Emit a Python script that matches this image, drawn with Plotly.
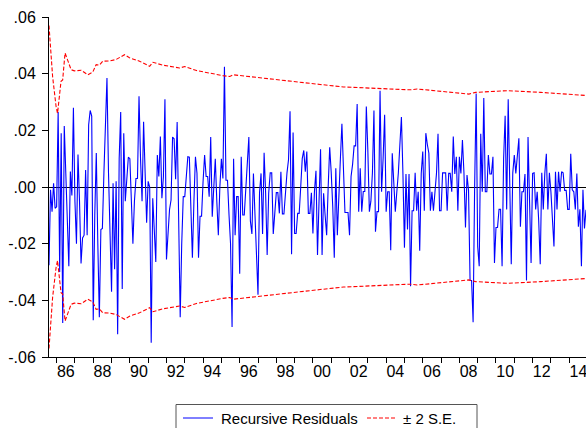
import numpy as np
import pandas as pd
import plotly.graph_objects as go

# Recursive residuals, monthly from 1985M08 to 2014M12
resid_1985_1991 = [
    -0.0276, -0.001, -0.0087, 0.0013, -0.0075, -0.007, 0.0265, -0.030, 0.019, -0.048,
    0.0215, 0.005, -0.012, -0.028, 0.0055, -0.003, 0.028, -0.005, -0.020, 0.0115,
    -0.005, -0.027, -0.018, -0.017, 0.006, -0.017, 0.022, 0.027, 0.025, -0.047,
    -0.010, 0.012, -0.020, -0.046, -0.015, -0.0146, 0.005, 0.020, 0.0385, 0.005,
    -0.015, -0.037, 0.0013, -0.029, 0.002, -0.052, 0.010, 0.0265, -0.036, 0.019,
    -0.005, 0.005, 0.0105, 0.010, -0.005, -0.020, -0.005, 0.003, 0.003, 0.032,
    0.010, -0.005, 0.023, 0.005, -0.0126, 0.002, 0.000, -0.055]
resid_1991_1997 = [
    -0.004, -0.015, -0.0265, 0.0113, 0.0037, 0.0178, -0.004, 0.0037, 0.031, -0.0256,
    -0.015, -0.008, -0.0046, 0.0176, 0.017, 0.0027, 0.0229, -0.021, -0.046, -0.020,
    -0.0034, -0.0034, 0.005, 0.0107, 0.0105, -0.0046, -0.025, -0.005, 0.0107, 0.0048,
    -0.025, -0.0103, -0.0103, 0.002, 0.0113, 0.0037, 0.0037, -0.0034, 0.0176, -0.0105,
    0.000, 0.010, -0.005, -0.017, 0.000, 0.010, 0.003, 0.0424, 0.0024, 0.0024,
    -0.0099, -0.020, -0.0494, 0.010, -0.017, -0.0034, -0.0034, -0.0306, 0.0107, -0.0099,
    -0.0099, 0.000, 0.008, 0.0176, -0.012, -0.0166, 0.0048, -0.0075, -0.020, -0.038,
    -0.002]
resid_1997_2003 = [
    0.0048, -0.0166, 0.0121, -0.0022, -0.024, -0.0022, 0.005, 0.005, -0.0166, -0.0093,
    -0.002, -0.002, -0.0093, 0.0054, -0.0095, -0.0095, -0.0015, 0.005, 0.0096, 0.0267,
    -0.0237, 0.0192, -0.0164, -0.0164, -0.0093, -0.0093, 0.000, 0.010, 0.0129, 0.0054,
    0.0125, -0.0093, -0.0093, -0.002, -0.0164, -0.0016, 0.0057, -0.024, -0.005, 0.0133,
    -0.024, -0.0022, -0.010, -0.017, 0.000, 0.014, 0.005, -0.007, -0.025, 0.0066,
    -0.017, 0.000, 0.010, 0.0223, 0.0037, -0.009, -0.009, -0.009, -0.017, 0.0037,
    0.008, 0.0145, 0.0145, 0.0293, -0.0087, 0.0066, -0.0087, -0.0016, -0.0016, 0.0284,
    0.013]
resid_2003_2009 = [
    -0.0087, -0.005, 0.005, 0.027, -0.0158, -0.0087, -0.0087, 0.034, -0.0017, 0.010,
    0.0255, -0.0087, -0.0017, -0.0017, -0.0223, 0.0119, 0.002, -0.0087, -0.0017, 0.005,
    0.015, 0.0247, 0.0048, -0.0214, 0.0046, -0.015, 0.0046, -0.035, -0.0084, -0.0084,
    0.005, -0.0084, -0.0017, -0.0225, 0.0048, 0.0125, -0.0084, 0.019, 0.015, 0.0119,
    -0.0084, -0.0017, -0.0084, 0.000, 0.0048, 0.0188, -0.0084, -0.0084, 0.005, 0.005,
    0.005, -0.0084, 0.0048, 0.0048, -0.0017, 0.0178, 0.0046, 0.0107, -0.0084, 0.0107,
    0.0048, 0.0166, 0.005, -0.0143, 0.0042, -0.0012, -0.033, -0.033, -0.0477, 0.000,
    0.033]
resid_2009_2014 = [
    -0.021, -0.028, 0.0188, -0.0017, 0.0314, -0.0017, -0.0017, 0.0113, 0.0046, 0.0046,
    0.0107, -0.0268, -0.0143, -0.0143, -0.0079, -0.0079, -0.028, 0.010, 0.0251, -0.0079,
    0.031, 0.0037, -0.0273, 0.005, 0.0113, 0.0048, 0.010, 0.0172, -0.014, -0.0017,
    -0.0017, 0.0046, -0.033, 0.0176, -0.005, -0.0268, 0.0048, 0.005, -0.0079, -0.0017,
    -0.012, -0.0273, 0.005, -0.0079, 0.0048, 0.0117, -0.0079, 0.005, -0.0017, -0.010,
    -0.021, 0.0054, -0.0079, 0.0054, -0.0017, 0.0054, 0.005, -0.0012, -0.0012, -0.0079,
    -0.0079, 0.0117, -0.001, -0.0017, -0.0079, 0.0048, -0.014, -0.0079, -0.028, -0.001,
    -0.0146, -0.008]

# 2 S.E. band, read at selected dates (fractional years)
band_years = [1985.583, 1985.78, 1985.97, 1986.05, 1986.24, 1986.33, 1986.46, 1986.6,
              1986.79, 1986.97, 1987.34, 1987.7, 1987.97, 1988.16, 1988.34, 1988.52,
              1988.89, 1989.25, 1989.71, 1989.98, 1990.53, 1991.08, 1991.26, 1991.81,
              1992.72, 1993.0, 1993.64, 1995.08, 1995.46, 1995.65, 1996.74, 1998.57,
              2000.39, 2001.67, 2003.5, 2005.33, 2005.69, 2006.6, 2007.52, 2008.52,
              2008.89, 2010.26, 2010.62, 2012.44, 2013.36, 2014.917]
band_2se = [0.057, 0.039, 0.0284, 0.026, 0.0373, 0.0378, 0.0473, 0.045,
            0.0414, 0.041, 0.0412, 0.0396, 0.0405, 0.0432, 0.043, 0.0444,
            0.0445, 0.045, 0.0467, 0.0456, 0.0444, 0.0426, 0.044, 0.043,
            0.042, 0.0425, 0.0411, 0.0393, 0.039, 0.0396, 0.0388, 0.0373,
            0.0362, 0.0353, 0.0347, 0.0343, 0.0346, 0.0341, 0.0334, 0.0328,
            0.0334, 0.0337, 0.034, 0.0334, 0.0329, 0.0323]

y_ticks = [-0.06, -0.04, -0.02, 0.0, 0.02, 0.04, 0.06]
y_ticktext = ["-.06", "-.04", "-.02", ".00", ".02", ".04", ".06"]
x_label_years = list(range(1986, 2015, 2))
x_ticktext = ["%02d" % (y % 100) for y in x_label_years]
legend_names = ["Recursive Residuals", "± 2 S.E."]

resid = (resid_1985_1991 + resid_1991_1997 + resid_1997_2003
         + resid_2003_2009 + resid_2009_2014)
periods = pd.period_range("1985-08", periods=len(resid), freq="M")
xs = [p.year + (p.month - 1) / 12 for p in periods]

band_up = list(band_2se)
band_lo = [-v for v in band_2se]

W, H = 586, 428
ML, MR, MT, MB = 49, 0, 17, 71
PW, PH = W - ML - MR, H - MT - MB
BLUE, RED = "#0000FF", "#FF0000"
DASH = "4px,2px"
FONT = "Liberation Sans, Arial, sans-serif"


def px_x(px):
    return (px - ML) / PW


def px_y(py):
    return (H - MB - py) / PH


fig = go.Figure()
fig.add_trace(go.Scatter(x=xs, y=resid, mode="lines", name=legend_names[0],
                         line=dict(color=BLUE, width=1.1)))
fig.add_trace(go.Scatter(x=band_years, y=band_up, mode="lines", name=legend_names[1],
                         line=dict(color=RED, width=1.1, dash=DASH)))
fig.add_trace(go.Scatter(x=band_years, y=band_lo, mode="lines", name=legend_names[1],
                         line=dict(color=RED, width=1.1, dash=DASH)))

# Legend box drawn by hand (it runs past the bottom edge in the reference)
shapes = [
    dict(type="rect", xref="paper", yref="paper",
         x0=px_x(176), x1=px_x(477), y0=px_y(445), y1=px_y(404.5),
         line=dict(color="#555555", width=1), fillcolor="white", layer="above"),
    dict(type="line", xref="paper", yref="paper",
         x0=px_x(183), x1=px_x(213), y0=px_y(418), y1=px_y(418),
         line=dict(color=BLUE, width=1)),
    dict(type="line", xref="paper", yref="paper",
         x0=px_x(367), x1=px_x(397), y0=px_y(418), y1=px_y(418),
         line=dict(color=RED, width=1, dash=DASH)),
]
annotations = [
    dict(text=legend_names[0], xref="paper", yref="paper", x=px_x(219), y=px_y(418),
         xanchor="left", yanchor="middle", showarrow=False,
         font=dict(family=FONT, size=15, color="black")),
    dict(text=legend_names[1], xref="paper", yref="paper", x=px_x(401), y=px_y(418),
         xanchor="left", yanchor="middle", showarrow=False,
         font=dict(family=FONT, size=15, color="black")),
]

fig.update_layout(
    width=W, height=H,
    margin=dict(l=ML, r=MR, t=MT, b=MB, autoexpand=False),
    paper_bgcolor="white", plot_bgcolor="white",
    font=dict(family=FONT, size=16, color="black"),
    showlegend=False,
    shapes=shapes, annotations=annotations,
)
fig.update_xaxes(
    range=[xs[0], xs[-1]], automargin=False,
    tickmode="array", tickvals=[y + 0.5 for y in x_label_years], ticktext=x_ticktext,
    ticks="outside", ticklen=0, tickcolor="black", ticklabeloverflow="allow",
    showline=True, linecolor="black", linewidth=1,
    showgrid=False, zeroline=False,
    minor=dict(tickmode="array", tickvals=list(range(1986, 2015)),
               ticks="outside", ticklen=5, tickcolor="black", showgrid=False),
    tickfont=dict(size=16),
)
fig.update_yaxes(
    range=[-0.06, 0.06], automargin=False,
    tickmode="array", tickvals=y_ticks, ticktext=y_ticktext,
    ticks="outside", ticklen=6, tickcolor="black", ticklabeloverflow="allow",
    showline=True, linecolor="black", linewidth=1,
    showgrid=False, zeroline=True, zerolinecolor="black", zerolinewidth=1,
    tickfont=dict(size=16), ticklabelstandoff=3,
)

fig.write_html(
    "out.html",
    config={"displayModeBar": False},
    post_script="document.body.style.margin='0';document.body.style.padding='0';"
                "document.body.style.overflow='hidden';",
)
